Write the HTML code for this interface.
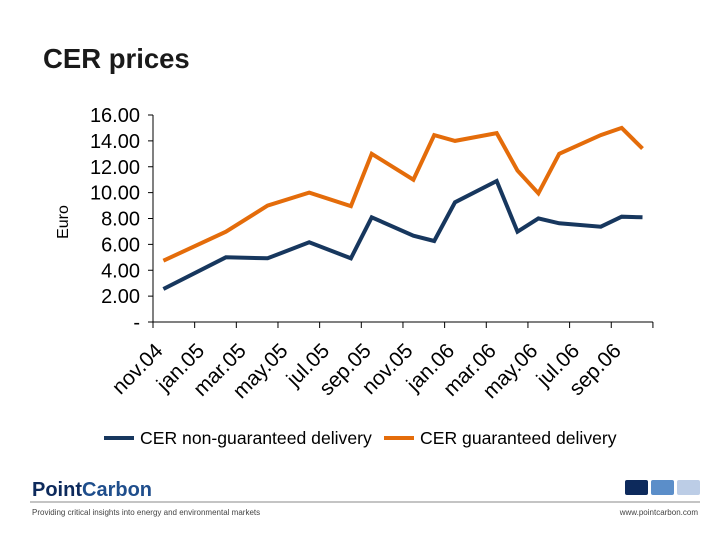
<!DOCTYPE html>
<html><head><meta charset="utf-8"><style>
body{margin:0;background:#fff;}
svg{display:block;font-family:"Liberation Sans",Arial,sans-serif;}
</style></head><body>
<svg width="720" height="540" viewBox="0 0 720 540" xmlns="http://www.w3.org/2000/svg">
<text x="43" y="68" font-size="27.5" font-weight="bold" fill="#1a1a1a">CER prices</text>
<text transform="translate(68,222) rotate(-90)" text-anchor="middle" font-size="16" fill="#000">Euro</text>
<g id="axes"></g>
<g id="plot"></g>
<g>
<g>
<line x1="104" y1="438" x2="134" y2="438" stroke="#17375e" stroke-width="4"/>
<text x="140" y="444" font-size="17.6" fill="#000">CER non-guaranteed delivery</text></g>
<g>
<line x1="384" y1="438" x2="414" y2="438" stroke="#e46c0a" stroke-width="4"/>
<text x="420" y="444" font-size="17.6" fill="#000">CER guaranteed delivery</text></g>
</g>
<g>
<text x="32" y="496" font-size="20" font-weight="bold" fill="#0d2a5c">Point<tspan fill="#1f4e8c">Carbon</tspan></text>
<rect x="625" y="480" width="23" height="15" rx="2" fill="#0d2a5c"/>
<rect x="651" y="480" width="23" height="15" rx="2" fill="#5b8ec9"/>
<rect x="677" y="480" width="23" height="15" rx="2" fill="#bccde6"/>
<line x1="30" y1="502" x2="700" y2="502" stroke="#888" stroke-width="1"/>
<text x="32" y="515" font-size="8" fill="#444">Providing critical insights into energy and environmental markets</text>
<text x="698" y="515" font-size="8" fill="#444" text-anchor="end">www.pointcarbon.com</text>
</g>
</svg>
<script>
const tickLabels = ["nov.04","jan.05","mar.05","may.05","jul.05","sep.05","nov.05","jan.06","mar.06","may.06","jul.06","sep.06"];
const yTickLabels = ["-","2.00","4.00","6.00","8.00","10.00","12.00","14.00","16.00"];
const monthIdx = [0,3,5,7,9,10,12,13,14,16,17,18,19,21,22,23];
const nonGuaranteed = [2.55,5.0,4.92,6.16,4.92,8.09,6.67,6.26,9.25,10.9,6.98,8.01,7.63,7.37,8.14,8.09];
const guaranteed = [4.74,6.98,9.0,10.0,8.96,13.0,11.0,14.45,14.0,14.6,11.7,9.95,13.0,14.45,15.0,13.4];

const NS="http://www.w3.org/2000/svg";
const x0=153, monthW=20.83, yZero=322, yTop=115, yMax=16;
const xs=m=>x0+(m+0.5)*monthW;
const xt=i=>x0+i*2*monthW;
const ys=v=>yZero-(v/yMax)*(yZero-yTop);
const axes=document.getElementById('axes');
const plot=document.getElementById('plot');
function mk(tag,attrs,parent){const e=document.createElementNS(NS,tag);for(const k in attrs)e.setAttribute(k,attrs[k]);parent.appendChild(e);return e;}

const ya=mk('line',{x1:x0,y1:yTop,x2:x0,y2:yZero,stroke:'#000','stroke-width':1},axes);


const xa=mk('line',{x1:x0,y1:yZero,x2:xt(12),y2:yZero,stroke:'#000','stroke-width':1},axes);


yTickLabels.forEach((lab,i)=>{
  const v=i*2, y=ys(v);
  mk('line',{x1:x0-5,y1:y,x2:x0,y2:y,stroke:'#000'},axes);
  const t=mk('text',{x:140,y:y+7,'text-anchor':'end','font-size':20,fill:'#000'},axes);
  t.textContent=lab;
  
  
});
for(let i=0;i<=12;i++){
  mk('line',{x1:xt(i),y1:yZero,x2:xt(i),y2:yZero+6,stroke:'#000'},axes);
}
tickLabels.forEach((lab,i)=>{
  const ax=xt(i)+11, ay=352;
  const t=mk('text',{x:ax,y:ay,'text-anchor':'end','font-size':21,fill:'#000',transform:`rotate(-45 ${ax} ${ay})`},axes);
  t.textContent=lab;
  
  
});
function line(vals,color,name){
  const d=vals.map((v,i)=>(i?'L':'M')+xs(monthIdx[i]).toFixed(1)+' '+ys(v).toFixed(1)).join(' ');
  const p=mk('path',{d:d,fill:'none',stroke:color,'stroke-width':4,'stroke-linejoin':'miter'},plot);
  
  
}
line(guaranteed,'#e46c0a','guaranteed-series-line');
line(nonGuaranteed,'#17375e','non-guaranteed-series-line');
</script>
</body></html>
